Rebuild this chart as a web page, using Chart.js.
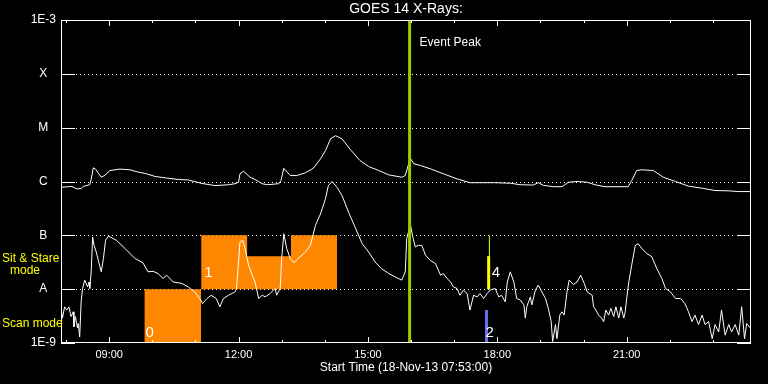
<!DOCTYPE html>
<html><head><meta charset="utf-8">
<script src="https://cdn.jsdelivr.net/npm/chart.js@4.4.1/dist/chart.umd.min.js"></script>
<style>html,body{margin:0;padding:0;background:#000;overflow:hidden;}canvas{display:block;}</style>
</head><body>
<canvas id="c" width="768" height="384"></canvas>
<script>
// ---------- data ----------
const TITLE = 'GOES 14 X-Rays:';
const START_LABEL = 'Start Time (18-Nov-13 07:53:00)';
const X_RANGE = ['07:53', '23:53'];
const HOUR_TICKS = [8,9,10,11,12,13,14,15,16,17,18,19,20,21,22,23];
const HOUR_LABELS = ['09:00','12:00','15:00','18:00','21:00'];
const Y_TICK_VALUES = [1e-9,1e-8,1e-7,1e-6,1e-5,1e-4,1e-3];
const Y_TICK_LABELS = ['1E-9','A','B','C','M','X','1E-3'];

// long channel (upper curve), W/m^2
const longTimes = [
 '07:53','08:08','08:15','08:21','08:24','08:33','08:35','08:38','08:41','08:49',
 '08:54','09:01','09:15','09:29','09:40','09:51','10:04','10:18','10:36','10:50',
 '11:09','11:27','11:46','11:55','12:00','12:02','12:07','12:16','12:23','12:33',
 '12:40','12:56','12:59','13:03','13:12','13:21','13:33','13:44','13:54','14:01',
 '14:08','14:15','14:24','14:35','14:49','15:01','15:15','15:29','15:47','15:52',
 '15:56','15:59','16:04','16:13','16:27','16:45','17:04','17:22','17:55','18:18',
 '18:32','18:50','18:57','19:04','19:18','19:30','19:39','19:51','20:05','20:16',
 '20:30','21:02','21:07','21:14','21:21','21:37','21:51','22:08','22:26','22:45',
 '23:03','23:22','23:36','23:53'];
const longFlux = [
 7.8e-7,8.1e-7,7.3e-7,7.4e-7,8.1e-7,8.7e-7,1.1e-6,1.8e-6,1.7e-6,1.2e-6,
 1.3e-6,1.6e-6,1.7e-6,1.65e-6,1.5e-6,1.4e-6,1.24e-6,1.17e-6,1.09e-6,1.07e-6,
 9.2e-7,8.4e-7,8.7e-7,9.1e-7,9.7e-7,1.39e-6,1.55e-6,1.2e-6,1.09e-6,9.1e-7,
 8.7e-7,9.1e-7,1.04e-6,1.76e-6,1.29e-6,1.29e-6,1.45e-6,1.76e-6,2.63e-6,3.75e-6,
 6.2e-6,7.1e-6,6.2e-6,4.0e-6,2.45e-6,1.9e-6,1.6e-6,1.33e-6,1.2e-6,1.29e-6,
 1.98e-6,2.7e-6,2.13e-6,1.98e-6,1.72e-6,1.39e-6,1.12e-6,9.5e-7,9.5e-7,9.3e-7,
 8.7e-7,8.6e-7,9.5e-7,8.5e-7,8.0e-7,8.0e-7,9.7e-7,1.0e-6,9.7e-7,8.7e-7,
 8.0e-7,8.0e-7,1.04e-6,1.6e-6,1.65e-6,1.6e-6,1.2e-6,1.0e-6,8.2e-7,7.5e-7,
 6.8e-7,6.7e-7,6.5e-7,6.5e-7];

// short channel (lower curve), W/m^2
const shortTimes = [
 '07:53','07:55','07:58','08:01','08:04','08:07','08:10','08:11','08:13','08:16',
 '08:17','08:19','08:21','08:23','08:26','08:30','08:32','08:33','08:35','08:37',
 '08:39','08:42','08:45','08:49','08:52','08:55','08:59','09:10','09:22','09:36',
 '09:47','09:54','10:01','10:08','10:15','10:20','10:29','10:41','10:50','10:59',
 '11:06','11:10','11:16','11:22','11:29','11:34','11:39','11:46','11:55','11:57',
 '11:59','12:02','12:06','12:09','12:14','12:19','12:23','12:28','12:33','12:37',
 '12:44','12:51','12:53','12:58','13:00','13:03','13:07','13:12','13:17','13:23',
 '13:33','13:40','13:47','13:54','14:01','14:05','14:10','14:17','14:24','14:33',
 '14:42','14:52','15:01','15:10','15:19','15:29','15:38','15:47','15:52','15:54',
 '15:59','16:03','16:06','16:10','16:15','16:20','16:27','16:34','16:41','16:45',
 '16:50','16:55','16:59','17:04','17:08','17:13','17:18','17:22','17:27','17:32',
 '17:36','17:41','17:46','17:50','17:57','18:02','18:06','18:11','18:14','18:18',
 '18:23','18:27','18:32','18:37','18:39','18:41','18:46','18:48','18:53','18:57',
 '19:02','19:07','19:11','19:15','19:17','19:21','19:23','19:27','19:30','19:33',
 '19:37','19:40','19:46','19:51','19:56','20:01','20:05','20:12','20:14','20:17',
 '20:21','20:25','20:28','20:31','20:35','20:38','20:42','20:45','20:49','20:52',
 '20:56','20:58','21:00','21:03','21:07','21:12','21:16','21:21','21:28','21:35',
 '21:42','21:49','21:54','22:01','22:08','22:15','22:21','22:26','22:31','22:35',
 '22:40','22:45','22:49','22:54','22:59','23:03','23:08','23:12','23:17','23:22',
 '23:26','23:31','23:36','23:40','23:44','23:47','23:52'];
const shortFlux = [
 4.4e-9,2.9e-9,4.7e-9,4.1e-9,4.7e-9,3.1e-9,3.8e-9,2.0e-9,3.1e-9,1.9e-9,
 2.3e-9,1.3e-9,5.8e-9,1.03e-8,1.47e-8,1.1e-8,1.36e-8,1.03e-8,2.1e-8,9.3e-8,
 6.5e-8,4.9e-8,3.4e-8,2.1e-8,3.7e-8,8.1e-8,9.7e-8,8.1e-8,5.7e-8,3.7e-8,
 3.1e-8,2.1e-8,2.15e-8,1.95e-8,1.58e-8,1.82e-8,1.36e-8,1.28e-8,1.1e-8,8.9e-9,
 6.7e-9,5.4e-9,6.7e-9,7.7e-9,6.7e-9,4.7e-9,6.7e-9,7.7e-9,8.9e-9,1.0e-8,
 2.1e-8,7.5e-8,8.1e-8,5.7e-8,2.8e-8,1.82e-8,1.36e-8,6.7e-9,7.7e-9,7.2e-9,
 8.3e-9,1.03e-8,7.7e-9,1.03e-8,3.7e-8,1.07e-7,5.7e-8,3.7e-8,3.1e-8,3.7e-8,
 4.9e-8,6.5e-8,1.53e-7,2.5e-7,4.8e-7,8.4e-7,1.0e-6,7.8e-7,5.5e-7,2.7e-7,
 1.43e-7,7.0e-8,4.9e-8,3.2e-8,2.4e-8,1.95e-8,1.69e-8,1.47e-8,2.1e-8,8.7e-8,
 1.58e-7,8.7e-8,6.1e-8,6.5e-8,6.5e-8,4.3e-8,3.4e-8,3.0e-8,1.82e-8,1.95e-8,
 1.58e-8,1.36e-8,1.1e-8,1.03e-8,7.7e-9,9.6e-9,8.3e-9,4.1e-9,7.7e-9,7.2e-9,
 8.3e-9,6.7e-9,8.3e-9,9.6e-9,1.03e-8,7.2e-9,7.7e-9,5.8e-9,1.36e-8,2.1e-8,
 1.36e-8,6.7e-9,6.3e-9,5.1e-9,2.9e-9,4.7e-9,7.2e-9,5.1e-9,9.6e-9,1.19e-8,
 8.9e-9,6.7e-9,4.4e-9,2.5e-9,1.06e-9,2.2e-9,1.2e-9,3.3e-9,3.8e-9,3.3e-9,
 8.9e-9,1.47e-8,1.22e-8,1.36e-8,1.82e-8,1.28e-8,8.9e-9,7.7e-9,4.7e-9,4.1e-9,
 3.3e-9,2.9e-9,2.5e-9,4.1e-9,3.3e-9,4.4e-9,3.1e-9,4.7e-9,2.9e-9,4.7e-9,
 2.9e-9,3.8e-9,6.7e-9,1.36e-8,2.8e-8,6.5e-8,7.0e-8,5.7e-8,4.6e-8,4.0e-8,
 2.4e-8,1.58e-8,1.03e-8,8.9e-9,6.7e-9,6.7e-9,5.4e-9,3.8e-9,2.5e-9,3.3e-9,
 2.2e-9,3.3e-9,2.2e-9,2.5e-9,1.2e-9,2.2e-9,1.6e-9,4.1e-9,1.4e-9,2.2e-9,
 1.6e-9,2.2e-9,1.4e-9,4.7e-9,1.2e-9,2.3e-9,1.9e-9];

// observing-mode blocks
const scanBoxTimes = ['09:49','11:08'];
const scanBoxFlux = [1e-8, 1e-8];
const stareBoxTimes = ['11:08','12:12','12:12','13:13','13:13','14:17'];
const stareBoxFlux = [1e-7,1e-7,4.1e-8,4.1e-8,1e-7,1e-7];
const SCAN_BASE = 1e-9, STARE_BASE = 1e-8;

// event peak and markers
const eventPeakTime = '15:58';
const stareMarkTime = '17:48', stareMarkFlux = [1e-8, 4.1e-8];
const stareTickTime = '17:49', stareTickFlux = [1e-8, 1e-7];
const scanMarkTime = '17:45', scanMarkFlux = [1e-9, 4.1e-9];
const FULL_RANGE = [1e-9, 1e-3];

// ---------- helpers ----------
const FONT = "'Liberation Sans', Arial, sans-serif";
function toMin(s){ const p = s.split(':').map(Number); return p[0]*60 + p[1]; }
function pts(times, vals){ return times.map((t,i)=>({x:toMin(t), y:vals[i]})); }
function vline(t, range){ return range.map(v=>({x:toMin(t), y:v})); }
function fmt(m){ const h=Math.floor(m/60), mm=Math.round(m%60); return String(h).padStart(2,'0')+':'+String(mm).padStart(2,'0'); }

const ORANGE = '#ff8700', GREEN = '#9acd00', YELLOW = '#ffff00', BLUE = '#6a6aee';

const lineBase = {pointRadius:0, tension:0, fill:false, borderWidth:1};

const decor = {
  id:'decor',
  beforeDraw(chart){
    const {ctx,width,height} = chart;
    ctx.save(); ctx.fillStyle='#000'; ctx.fillRect(0,0,width,height); ctx.restore();
  },
  beforeDatasetsDraw(chart){
    const {ctx, chartArea:a, scales:{y}} = chart;
    ctx.save();
    ctx.strokeStyle='#fff'; ctx.lineWidth=1; ctx.setLineDash([1,3]);
    Y_TICK_VALUES.slice(1,-1).forEach(v=>{
      const py = Math.round(y.getPixelForValue(v))+0.5;
      ctx.beginPath(); ctx.moveTo(a.left+15,py); ctx.lineTo(a.right-15,py); ctx.stroke();
    });
    ctx.restore();
  },
  afterDatasetsDraw(chart){
    const {ctx, chartArea:a, scales:{x,y}} = chart;
    ctx.save();
    ctx.strokeStyle='#fff'; ctx.lineWidth=1; ctx.setLineDash([]);
    // y ticks (solid, both sides)
    Y_TICK_VALUES.forEach(v=>{
      const py = Math.round(y.getPixelForValue(v))+0.5;
      ctx.beginPath(); ctx.moveTo(a.left,py); ctx.lineTo(a.left+14,py);
      ctx.moveTo(a.right-14,py); ctx.lineTo(a.right,py); ctx.stroke();
    });
    // x ticks (inside, top and bottom)
    HOUR_TICKS.forEach(h=>{
      const px = Math.round(x.getPixelForValue(h*60))+0.5;
      const len = (h%3===0)?6:3;
      ctx.beginPath();
      ctx.moveTo(px,a.bottom); ctx.lineTo(px,a.bottom-len);
      ctx.moveTo(px,a.top); ctx.lineTo(px,a.top+len);
      ctx.stroke();
    });
    // frame
    ctx.strokeRect(Math.round(a.left)+0.5, Math.round(a.top)+0.5, Math.round(a.right-a.left)-1, Math.round(a.bottom-a.top)-1);
    // labels
    ctx.fillStyle='#fff'; ctx.textBaseline='middle'; ctx.textAlign='left';
    ctx.font = "15px " + FONT;
    ctx.fillText('0', x.getPixelForValue(toMin(scanBoxTimes[0]))+1, a.bottom-10);
    const midStare = (y.getPixelForValue(STARE_BASE)+y.getPixelForValue(stareBoxFlux[2]))/2;
    ctx.fillText('1', x.getPixelForValue(toMin(stareBoxTimes[0]))+3, midStare);
    ctx.fillText('4', x.getPixelForValue(toMin(stareMarkTime))+3, midStare);
    ctx.fillText('2', x.getPixelForValue(toMin(scanMarkTime))-1, a.bottom-10);
    ctx.font = "12px " + FONT;
    ctx.fillText('Event Peak', x.getPixelForValue(toMin(eventPeakTime))+10, a.top+23);
    ctx.restore();
    // mode labels on the left
    ctx.save();
    ctx.fillStyle=YELLOW; ctx.font = "12px " + FONT; ctx.textBaseline='middle'; ctx.textAlign='left';
    ctx.fillText('Sit & Stare', 2, 259);
    ctx.textAlign='center';
    ctx.fillText('mode', 25, 271);
    ctx.textAlign='left';
    ctx.fillText('Scan mode', 2, 324);
    ctx.restore();
  }
};

new Chart(document.getElementById('c'), {
  type:'line',
  data:{datasets:[
    Object.assign({}, lineBase, {data:vline(eventPeakTime, FULL_RANGE), borderColor:GREEN, borderWidth:3, order:0}),
    Object.assign({}, lineBase, {data:vline(stareMarkTime, stareMarkFlux), borderColor:YELLOW, borderWidth:3, order:0}),
    Object.assign({}, lineBase, {data:vline(stareTickTime, stareTickFlux), borderColor:YELLOW, borderWidth:1, order:0}),
    Object.assign({}, lineBase, {data:vline(scanMarkTime, scanMarkFlux), borderColor:BLUE, borderWidth:3, order:0}),
    Object.assign({}, lineBase, {data:pts(longTimes,longFlux), borderColor:'#fff', order:1}),
    Object.assign({}, lineBase, {data:pts(shortTimes,shortFlux), borderColor:'#fff', order:1}),
    Object.assign({}, lineBase, {data:pts(scanBoxTimes,scanBoxFlux), borderWidth:0, borderColor:ORANGE, backgroundColor:ORANGE, fill:{value:SCAN_BASE}, order:2}),
    Object.assign({}, lineBase, {data:pts(stareBoxTimes,stareBoxFlux), borderWidth:0, borderColor:ORANGE, backgroundColor:ORANGE, fill:{value:STARE_BASE}, order:2})
  ]},
  options:{
    responsive:false, animation:false, devicePixelRatio:1,
    layout:{padding:{left:0,right:17,top:0,bottom:0}},
    plugins:{
      legend:{display:false}, tooltip:{enabled:false},
      title:{display:true, text:TITLE, color:'#fff', fullSize:false,
             font:{family:FONT, size:14, weight:'normal'}, padding:{top:1,bottom:2.2}}
    },
    scales:{
      x:{type:'linear', min:toMin(X_RANGE[0]), max:toMin(X_RANGE[1]),
         afterBuildTicks:s=>{ s.ticks = HOUR_LABELS.map(l=>({value:toMin(l)})); },
         ticks:{color:'#fff', font:{family:FONT,size:11}, padding:5, maxRotation:0, autoSkip:false, callback:v=>fmt(v)},
         grid:{display:false, drawTicks:false}, border:{display:false},
         title:{display:true, text:START_LABEL, color:'#fff', font:{family:FONT,size:12}, padding:{top:0,bottom:9}},
         afterFit:s=>{ s.height = 41; }},
      y:{type:'logarithmic', min:1e-9, max:1e-3,
         afterBuildTicks:s=>{ s.ticks = Y_TICK_VALUES.map(v=>({value:v})); },
         ticks:{color:'#fff', font:{family:FONT,size:12}, padding:5, crossAlign:'center', autoSkip:false,
                callback:(v,i)=>Y_TICK_LABELS[i]},
         grid:{display:false, drawTicks:false}, border:{display:false},
         afterFit:s=>{ s.width = 61; }}
    }
  },
  plugins:[decor]
});
</script>
</body></html>
